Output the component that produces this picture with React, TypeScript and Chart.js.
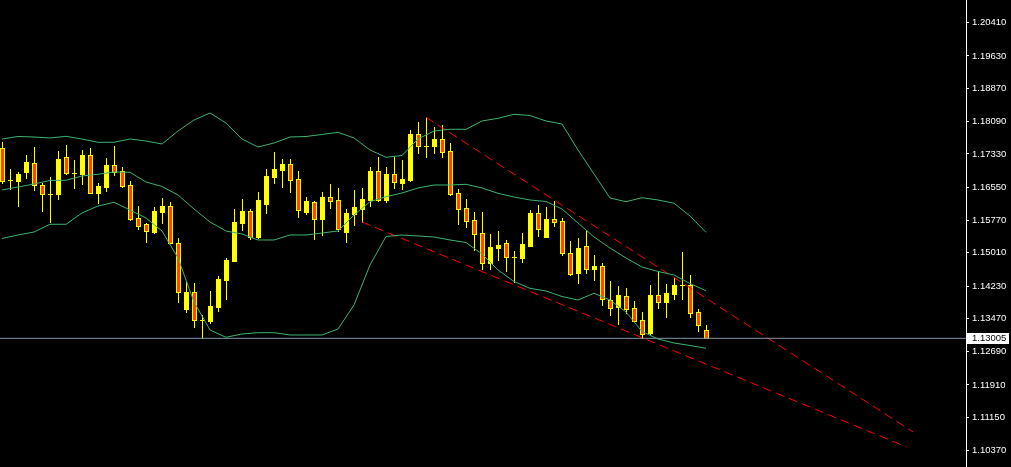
import React, { useEffect, useRef } from "react";
import { Chart, registerables } from "chart.js";

Chart.register(...registerables);

// Candles (index 0..88), EURUSD-like prices
const candleOpen = [
  1.17463, 1.16712, 1.16696, 1.16914, 1.17111, 1.16595, 1.16398, 1.16398, 1.17252, 1.1689,
  1.16867, 1.17306, 1.16421, 1.16562, 1.17071, 1.1693, 1.16602, 1.15821, 1.1568, 1.15506,
  1.15976, 1.16109, 1.15234, 1.137, 1.14085, 1.13435, 1.13411, 1.13747, 1.1438, 1.14819,
  1.15717, 1.15992, 1.15375, 1.16163, 1.16797, 1.16954, 1.17095, 1.16736, 1.15976, 1.16203,
  1.15804, 1.16313, 1.1625, 1.15499, 1.15929, 1.16046, 1.16257, 1.16923, 1.1625, 1.16853,
  1.16656, 1.16719, 1.17798, 1.17517, 1.1751, 1.17674, 1.174, 1.16414, 1.16062, 1.15781,
  1.15469, 1.14765, 1.15131, 1.15241, 1.14906, 1.14896, 1.15178, 1.15938, 1.15389, 1.15797,
  1.15757, 1.15007, 1.1453, 1.15171, 1.14638, 1.14702, 1.13904, 1.13733, 1.13998, 1.13716,
  1.13435, 1.1313, 1.14021, 1.13857, 1.14045, 1.14256, 1.14256, 1.13622, 1.132,
];
const candleHigh = [
  1.17604, 1.16977, 1.16907, 1.17306, 1.17493, 1.16656, 1.1679, 1.174, 1.1754, 1.17188,
  1.17423, 1.1747, 1.16649, 1.17235, 1.17517, 1.17017, 1.16689, 1.16109, 1.1571, 1.16093,
  1.16297, 1.16203, 1.15352, 1.14319, 1.14296, 1.13552, 1.14115, 1.14467, 1.14896, 1.16032,
  1.16266, 1.16046, 1.16438, 1.16977, 1.17376, 1.17212, 1.17212, 1.1693, 1.16313, 1.16234,
  1.16438, 1.16625, 1.16532, 1.16032, 1.16485, 1.16532, 1.17031, 1.17266, 1.17017, 1.17266,
  1.17188, 1.17892, 1.18073, 1.1819, 1.17956, 1.18009, 1.17587, 1.16515, 1.16273, 1.15976,
  1.15968, 1.15452, 1.15523, 1.15312, 1.15054, 1.15483, 1.16022, 1.16133, 1.16093, 1.16227,
  1.15821, 1.15288, 1.15366, 1.15523, 1.1496, 1.14765, 1.1435, 1.14232, 1.14193, 1.13881,
  1.13622, 1.14256, 1.14591, 1.14272, 1.14413, 1.1503, 1.14483, 1.13693, 1.13317,
];
const candleLow = [
  1.16656, 1.16501, 1.16116, 1.16766, 1.16492, 1.15999, 1.15741, 1.16266, 1.16853, 1.16539,
  1.16632, 1.16407, 1.16187, 1.16468, 1.16844, 1.16562, 1.15781, 1.1557, 1.15272, 1.15483,
  1.15717, 1.15234, 1.13864, 1.1363, 1.13278, 1.13005, 1.13357, 1.13653, 1.13927, 1.1481,
  1.15546, 1.15342, 1.15359, 1.15952, 1.16656, 1.16562, 1.16445, 1.15858, 1.15915, 1.15328,
  1.15422, 1.16069, 1.1553, 1.15272, 1.15671, 1.15734, 1.16116, 1.16234, 1.1621, 1.16532,
  1.16501, 1.16703, 1.17353, 1.17266, 1.17346, 1.17266, 1.16374, 1.15694, 1.15624, 1.1507,
  1.14631, 1.14638, 1.14842, 1.14591, 1.14326, 1.14795, 1.1517, 1.15413, 1.15382, 1.15647,
  1.14953, 1.14498, 1.1431, 1.14545, 1.14373, 1.1378, 1.13552, 1.13348, 1.13606, 1.13404,
  1.13005, 1.13113, 1.13723, 1.13505, 1.1392, 1.13927, 1.13512, 1.1317, 1.13005,
];
const candleClose = [
  1.16696, 1.16712, 1.1686, 1.17134, 1.16595, 1.16384, 1.16398, 1.17212, 1.1689, 1.1689,
  1.17306, 1.16421, 1.16578, 1.17071, 1.16914, 1.16586, 1.15804, 1.15647, 1.15516, 1.15992,
  1.16116, 1.15241, 1.14085, 1.14092, 1.13428, 1.13435, 1.1377, 1.14397, 1.14842, 1.15734,
  1.15992, 1.15389, 1.1625, 1.16813, 1.16977, 1.17095, 1.16726, 1.16022, 1.16227, 1.15811,
  1.16313, 1.16234, 1.15563, 1.15945, 1.16079, 1.16273, 1.1693, 1.16243, 1.1686, 1.16665,
  1.16736, 1.17791, 1.1751, 1.17517, 1.17681, 1.17383, 1.16398, 1.16032, 1.15764, 1.15445,
  1.14765, 1.15147, 1.15194, 1.14906, 1.14906, 1.15218, 1.15945, 1.15577, 1.15804, 1.15741,
  1.15, 1.14521, 1.15124, 1.14638, 1.14702, 1.1392, 1.13723, 1.14021, 1.137, 1.13418,
  1.13106, 1.14021, 1.13864, 1.14068, 1.14256, 1.14256, 1.13606, 1.13325, 1.13005,
];

// Bollinger bands, read every second candle (candle index 0, 2, 4, ... 88)
const bandUpper = [
  1.17681, 1.1774, 1.17728, 1.17705, 1.17744, 1.17681, 1.17604, 1.17604, 1.17681, 1.17634,
  1.17564, 1.17869, 1.18127, 1.18291, 1.18056, 1.17681, 1.17493, 1.17587, 1.17728, 1.1774,
  1.17787, 1.17838, 1.17705, 1.17423, 1.17252, 1.17294, 1.17681, 1.17869, 1.17909, 1.17909,
  1.18103, 1.18167, 1.18261, 1.18232, 1.18103, 1.18033, 1.17423, 1.1686, 1.16297, 1.1621,
  1.16304, 1.1625, 1.16173, 1.15875, 1.15492,
];
const bandMiddle = [
  1.16485, 1.16555, 1.16625, 1.16708, 1.16712, 1.16813, 1.16853, 1.16907, 1.169, 1.16672,
  1.16567, 1.16367, 1.16039, 1.15734, 1.15523, 1.15452, 1.15312, 1.15312, 1.15429, 1.15429,
  1.15476, 1.15523, 1.15898, 1.1621, 1.16327, 1.16414, 1.16532, 1.16602, 1.16602, 1.16618,
  1.16532, 1.16407, 1.1632, 1.1625, 1.16215, 1.16039, 1.1571, 1.15382, 1.15124, 1.14889,
  1.14678, 1.14573, 1.1449, 1.14291, 1.14122,
];
const bandLower = [
  1.15347, 1.15429, 1.15499, 1.1568, 1.1568, 1.15945, 1.16109, 1.16196, 1.16015, 1.15828,
  1.15523, 1.14889, 1.13857, 1.132, 1.13029, 1.13106, 1.13137, 1.13137, 1.13083, 1.13083,
  1.13083, 1.13224, 1.13787, 1.14725, 1.15394, 1.15429, 1.15405, 1.15382, 1.15312, 1.15253,
  1.14983, 1.14608, 1.14338, 1.14178, 1.14115, 1.13986, 1.13904, 1.14061, 1.13904, 1.13622,
  1.13165, 1.12989, 1.12895, 1.12837, 1.12771,
];

// Trend lines (candle index, price)
const trendUpperX = [53, 113.9];
const trendUpperY = [1.1819, 1.10807];
const trendLowerX = [45, 113.1];
const trendLowerY = [1.15734, 1.10455];

const currentPrice = 1.13005;

const yTickLabels = [
  1.2041, 1.1963, 1.1887, 1.1809, 1.1733, 1.1655, 1.1577, 1.1501, 1.1423, 1.1347,
  1.1269, 1.1191, 1.1115, 1.1037,
];

const X_MIN = -0.25;
const X_MAX = 120.5;
const Y_MIN = 1.09986;
const Y_MAX = 1.20942;

const FONT = "'Liberation Sans', Arial, sans-serif";

const bgPlugin = {
  id: "bg",
  beforeDraw(chart: any) {
    const { ctx, width, height } = chart;
    ctx.save();
    ctx.fillStyle = "#000000";
    ctx.fillRect(0, 0, width, height);
    ctx.restore();
  },
};

const candlePlugin = {
  id: "candles",
  beforeDatasetsDraw(chart: any) {
    const { ctx, chartArea } = chart;
    const xs = chart.scales.x;
    const ys = chart.scales.y;
    ctx.save();
    ctx.beginPath();
    ctx.rect(chartArea.left, chartArea.top, chartArea.right - chartArea.left, chartArea.bottom - chartArea.top);
    ctx.clip();
    for (let i = 0; i < candleOpen.length; i++) {
      const cx = Math.round(xs.getPixelForValue(i));
      const yo = Math.round(ys.getPixelForValue(candleOpen[i]));
      const yc = Math.round(ys.getPixelForValue(candleClose[i]));
      const yh = Math.round(ys.getPixelForValue(candleHigh[i]));
      const yl = Math.round(ys.getPixelForValue(candleLow[i]));
      const bear = candleClose[i] < candleOpen[i];
      ctx.fillStyle = "#ffff00";
      ctx.fillRect(cx, yh, 1, yl - yh + 1);
      const top = Math.min(yo, yc);
      const bot = Math.max(yo, yc);
      ctx.fillRect(cx - 2, top, 5, bot - top + 1);
      if (bear && bot - top >= 2) {
        ctx.fillStyle = "#ff4500";
        ctx.fillRect(cx - 1, top + 1, 3, bot - top - 1);
      }
    }
    ctx.restore();
  },
};

const priceTagPlugin = {
  id: "priceTag",
  afterDraw(chart: any) {
    const { ctx } = chart;
    const ys = chart.scales.y;
    const y = Math.round(ys.getPixelForValue(currentPrice));
    const left = ys.left + 1;
    ctx.save();
    ctx.fillStyle = "#ffffff";
    ctx.fillRect(left, y - 5, 42, 11);
    ctx.fillStyle = "#000000";
    ctx.font = `9.5px ${FONT}`;
    ctx.textBaseline = "middle";
    ctx.textAlign = "left";
    ctx.fillText(currentPrice.toFixed(5), ys.left + 6, y + 0.5);
    ctx.restore();
  },
};

export default function App() {
  const ref = useRef<HTMLCanvasElement | null>(null);

  useEffect(() => {
    document.body.style.margin = "0";
    document.body.style.background = "#000";
    const canvas = ref.current;
    if (!canvas) return;

    const band = (arr: number[]) => arr.map((v, k) => ({ x: k * 2, y: v }));
    const pairs = (xs: number[], ys: number[]) => xs.map((x, k) => ({ x, y: ys[k] }));

    const green = "#3cb371";
    const chart = new Chart(canvas, {
      type: "line",
      data: {
        datasets: [
          { label: "upper", data: band(bandUpper), borderColor: green, borderWidth: 1, pointRadius: 0, tension: 0, fill: false },
          { label: "middle", data: band(bandMiddle), borderColor: green, borderWidth: 1, pointRadius: 0, tension: 0, fill: false },
          { label: "lower", data: band(bandLower), borderColor: green, borderWidth: 1, pointRadius: 0, tension: 0, fill: false },
          {
            label: "price",
            data: [
              { x: X_MIN, y: currentPrice },
              { x: X_MAX, y: currentPrice },
            ],
            borderColor: "#8494aa",
            borderWidth: 1,
            pointRadius: 0,
          },
          { label: "trendUp", data: pairs(trendUpperX, trendUpperY), borderColor: "#ff0000", borderWidth: 1, borderDash: [9, 5], pointRadius: 0 },
          { label: "trendLow", data: pairs(trendLowerX, trendLowerY), borderColor: "#ff0000", borderWidth: 1, borderDash: [9, 5], pointRadius: 0 },
        ],
      },
      options: {
        animation: false,
        responsive: false,
        devicePixelRatio: 1,
        layout: { padding: 0 },
        plugins: { legend: { display: false }, tooltip: { enabled: false } },
        events: [],
        scales: {
          x: { type: "linear", display: false, min: X_MIN, max: X_MAX },
          y: {
            type: "linear",
            position: "right",
            min: Y_MIN,
            max: Y_MAX,
            afterBuildTicks: (s: any) => {
              s.ticks = yTickLabels.map((v) => ({ value: v }));
            },
            afterFit: (s: any) => {
              s.width = 45;
              s.paddingTop = 0;
              s.paddingBottom = 0;
            },
            ticks: {
              color: "#ffffff",
              font: { family: FONT, size: 9.5 },
              padding: 3,
              autoSkip: false,
              callback: (v: any) => Number(v).toFixed(5),
            },
            grid: { drawOnChartArea: false, drawTicks: true, tickLength: 3, color: "#ffffff" },
            border: { color: "#ffffff", width: 1 },
          },
        },
      },
      plugins: [bgPlugin, candlePlugin, priceTagPlugin],
    } as any);

    return () => chart.destroy();
  }, []);

  return (
    <div style={{ position: "fixed", left: 0, top: 0, width: 1011, height: 467, background: "#000" }}>
      <canvas ref={ref} width={1011} height={467} style={{ display: "block", width: 1011, height: 467 }} />
    </div>
  );
}
